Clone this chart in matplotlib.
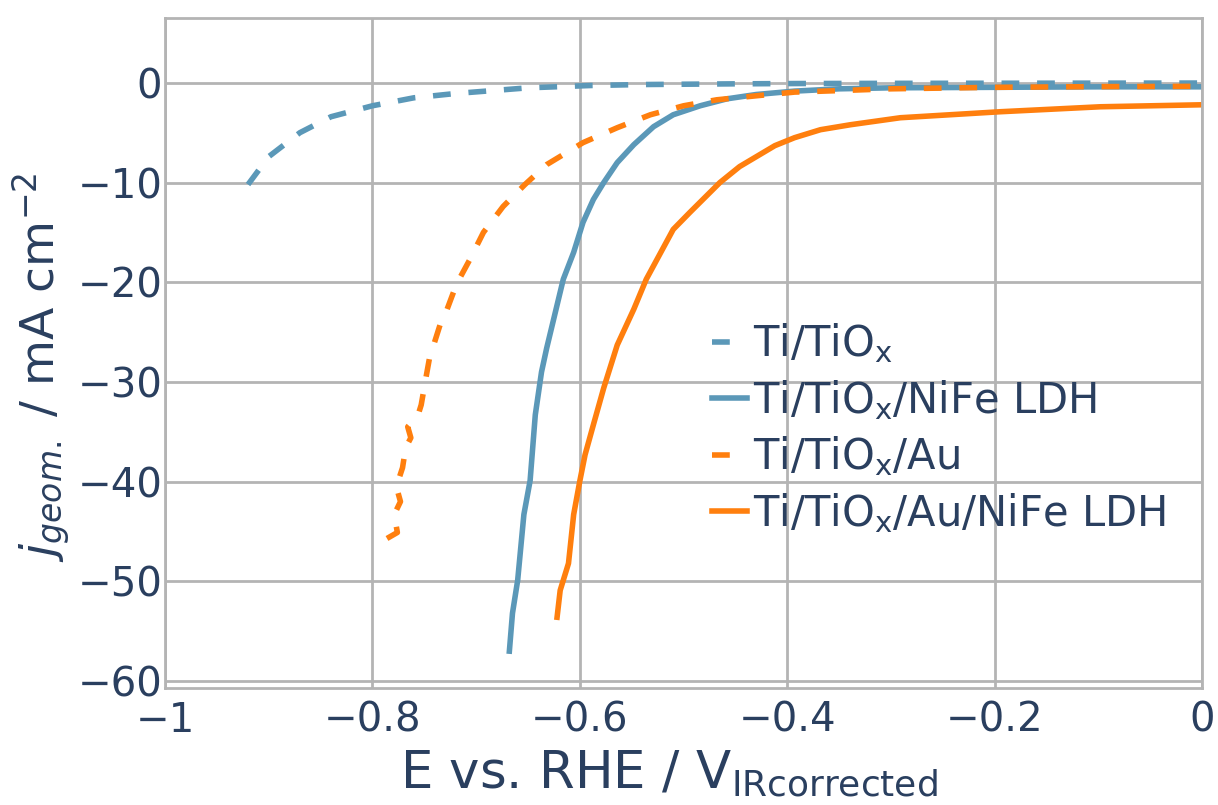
import matplotlib
matplotlib.use('Agg')
import matplotlib.pyplot as plt

# data
ti_x = [-0.92, -0.90, -0.87, -0.84, -0.80, -0.76, -0.72, -0.65, -0.59, -0.54, -0.45, -0.39, -0.3, -0.2, -0.1, 0.0]
ti_j = [-10.2, -7.4, -5.0, -3.4, -2.3, -1.5, -1.07, -0.5, -0.27, -0.17, -0.1, -0.07, -0.05, -0.04, -0.03, -0.02]

nife_x = [-0.668, -0.665, -0.660, -0.654, -0.648, -0.643, -0.637, -0.632, -0.616, -0.606, -0.597, -0.587,
          -0.577, -0.564, -0.548, -0.529, -0.510, -0.484, -0.458, -0.43, -0.393, -0.35, -0.3, -0.2, -0.1, 0.0]
nife_j = [-57.0, -53.2, -49.9, -43.3, -39.9, -33.3, -29.0, -26.6, -19.7, -17.0, -14.0, -11.7,
          -10.0, -8.0, -6.2, -4.4, -3.2, -2.3, -1.6, -1.17, -0.83, -0.6, -0.5, -0.45, -0.4, -0.4]

au_x = [-0.786, -0.776, -0.779, -0.773, -0.777, -0.771, -0.768, -0.763, -0.766, -0.756, -0.753, -0.749,
        -0.745, -0.741, -0.734, -0.728, -0.719, -0.706, -0.693, -0.674, -0.653, -0.632, -0.597, -0.564,
        -0.532, -0.500, -0.468, -0.430, -0.393, -0.3, -0.2, -0.1, 0.0]
au_j = [-45.7, -45.1, -43.3, -42.0, -40.5, -38.6, -36.6, -35.6, -34.5, -33.3, -32.3, -29.9,
        -27.6, -26.3, -24.0, -22.7, -20.2, -17.7, -15.0, -12.4, -10.2, -8.2, -6.0, -4.5,
        -3.2, -2.3, -1.7, -1.3, -0.93, -0.6, -0.45, -0.38, -0.35]

aunife_x = [-0.622, -0.619, -0.611, -0.606, -0.600, -0.595, -0.587, -0.577, -0.564, -0.548, -0.536, -0.510,
            -0.494, -0.465, -0.446, -0.412, -0.393, -0.368, -0.339, -0.291, -0.195, -0.098, 0.0]
aunife_j = [-53.6, -50.9, -48.2, -43.3, -39.9, -37.3, -34.3, -30.6, -26.3, -22.7, -19.7, -14.7,
            -13.0, -10.0, -8.4, -6.3, -5.5, -4.7, -4.2, -3.5, -2.9, -2.4, -2.2]

labels = ['Ti/TiO$_\\mathrm{x}$', 'Ti/TiO$_\\mathrm{x}$/NiFe LDH',
          'Ti/TiO$_\\mathrm{x}$/Au', 'Ti/TiO$_\\mathrm{x}$/Au/NiFe LDH']

blue = '#5b98b8'
orange = '#ff7f0e'
txt = '#2a3f5f'
grid = '#b4b4b4'

plt.rcParams['font.family'] = 'DejaVu Sans'
plt.rcParams['mathtext.fontset'] = 'dejavusans'

fig = plt.figure(figsize=(12.18, 8.05), dpi=100)
ax = fig.add_axes([0.1355, 0.1453, 0.8515, 0.8323])

dash = (0, (3.2, 3.2))
ax.plot(ti_x, ti_j, color=blue, lw=4, ls=dash, label=labels[0])
ax.plot(nife_x, nife_j, color=blue, lw=4, label=labels[1])
ax.plot(au_x, au_j, color=orange, lw=4, ls=dash, label=labels[2])
ax.plot(aunife_x, aunife_j, color=orange, lw=4, label=labels[3])

ax.set_xlim(-1, 0)
ax.set_ylim(-60.7, 6.5)
ax.set_xticks([-1, -0.8, -0.6, -0.4, -0.2, 0])
ax.set_xticklabels(['\u22121', '\u22120.8', '\u22120.6', '\u22120.4', '\u22120.2', '0'])
ax.set_yticks([0, -10, -20, -30, -40, -50, -60])
ax.set_yticklabels(['0', '\u221210', '\u221220', '\u221230', '\u221240', '\u221250', '\u221260'])
ax.grid(True, color=grid, lw=2)
ax.set_axisbelow(True)
for s in ax.spines.values():
    s.set_color(grid)
    s.set_linewidth(2)
ax.tick_params(length=0, labelsize=29, colors=txt)
ax.tick_params(axis='x', pad=9)
ax.tick_params(axis='y', pad=2)

ax.set_xlabel('E vs. RHE / V$_\\mathrm{IRcorrected}$', fontsize=37, color=txt, labelpad=6)
ax.set_ylabel('$j_{geom.}$ / mA cm$^{-2}$', fontsize=34, color=txt, labelpad=4)
ax.xaxis.label.set_x(0.486)
ax.yaxis.label.set_y(0.479)

leg = ax.legend(loc='upper left', bbox_to_anchor=(0.527, 0.547), frameon=False, fontsize=30,
                handlelength=0.85, handletextpad=0.15, labelspacing=0.3, borderaxespad=0,
                borderpad=0)
for t in leg.get_texts():
    t.set_color(txt)
# plotly-like legend symbols: one short dash for the dashed traces
for ln, style in zip(leg.get_lines(), ['d', 's', 'd', 's']):
    if style == 'd':
        ln.set_linestyle((0, (3.2, 12)))

fig.savefig('out.png', dpi=100, facecolor='white')
